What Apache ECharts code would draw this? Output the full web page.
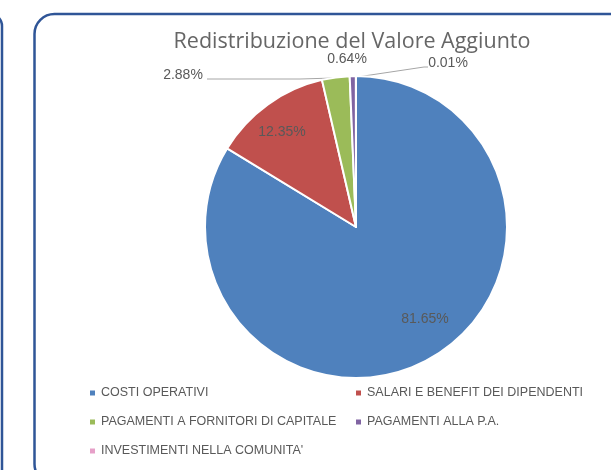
<!DOCTYPE html>
<html>
<head>
<meta charset="utf-8">
<script src="https://cdn.jsdelivr.net/npm/echarts@6/dist/echarts.min.js"></script>
<style>
html,body{margin:0;padding:0;background:#fff;}
#chart{width:611px;height:470px;}
</style>
</head>
<body>
<div id="chart"></div>
<script>
// ---- data ----
var categories = ['COSTI OPERATIVI', 'SALARI E BENEFIT DEI DIPENDENTI', 'PAGAMENTI A FORNITORI DI CAPITALE', 'PAGAMENTI ALLA P.A.', "INVESTIMENTI NELLA COMUNITA'"];
var values = [81.65, 12.35, 2.88, 0.64, 0.01];
var titleText = 'Redistribuzione del Valore Aggiunto';

// ---- styling ----
var colors = ['#4F81BD', '#C0504D', '#9BBB59', '#8064A2', '#E6A0C8'];
var textColor = '#595959';
var fontFam = 'Liberation Sans, Arial, sans-serif';
var insideIdx = [0, 1];
// label anchor positions (layout)
var labelPos = {
  0: {x: 425, y: 319},
  1: {x: 282, y: 132},
  2: {x: 183, y: 75, line: [[207, 79], [300, 79], [334, 78]]},
  3: {x: 347, y: 59, line: null},
  4: {x: 448, y: 63, line: [[357, 77], [424, 67], [428, 67]]}
};

var chart = echarts.init(document.getElementById('chart'), null, {renderer: 'canvas'});

var data = categories.map(function (n, i) {
  var inside = insideIdx.indexOf(i) >= 0;
  return {
    name: n,
    value: values[i],
    label: {position: inside ? 'inside' : 'outside'},
    labelLine: {show: !inside && labelPos[i].line != null}
  };
});

var option = {
  animation: false,
  color: colors,
  title: {
    text: titleText,
    left: 352,
    top: 31,
    textAlign: 'center',
    padding: 0,
    textStyle: {fontFamily: 'Open Sans, Noto Sans, sans-serif', fontSize: 21.5, fontWeight: 'normal', color: '#666666'}
  },
  graphic: [
    {type: 'rect', shape: {x: 34.5, y: 14, width: 620, height: 470, r: 20},
     style: {fill: 'none', stroke: '#2F5597', lineWidth: 2.5}, z: 0},
    {type: 'rect', shape: {x: -40, y: 14, width: 42, height: 470, r: 12},
     style: {fill: 'none', stroke: '#2F5597', lineWidth: 2.5}, z: 0}
  ],
  legend: [
    {
      data: [categories[0], categories[2], categories[4]],
      orient: 'vertical', left: 88, top: 386, padding: 0,
      icon: 'rect', itemWidth: 7, itemHeight: 7, itemGap: 15, itemTextGap: 5,
      textStyle: {fontFamily: fontFam, fontSize: 12.5, color: textColor, lineHeight: 14},
      selectedMode: false
    },
    {
      data: [categories[1], categories[3]],
      orient: 'vertical', left: 354, top: 386, padding: 0,
      icon: 'rect', itemWidth: 7, itemHeight: 7, itemGap: 15, itemTextGap: 5,
      textStyle: {fontFamily: fontFam, fontSize: 12.5, color: textColor, lineHeight: 14},
      selectedMode: false
    }
  ],
  series: [{
    type: 'pie',
    center: [356, 227],
    radius: [0, 151],
    startAngle: 90,
    clockwise: true,
    avoidLabelOverlap: false,
    minAngle: 0,
    itemStyle: {borderColor: '#fff', borderWidth: 2},
    label: {
      show: true,
      formatter: function (p) { return p.value.toFixed(2) + '%'; },
      fontFamily: fontFam, fontSize: 14, color: textColor
    },
    labelLine: {lineStyle: {color: '#A6A6A6', width: 1}},
    labelLayout: function (p) {
      var lp = labelPos[p.dataIndex];
      var r = {x: lp.x, y: lp.y, align: 'center', verticalAlign: 'middle'};
      if (lp.line) r.labelLinePoints = lp.line;
      return r;
    },
    emphasis: {disabled: true},
    data: data
  }]
};
chart.setOption(option);
</script>
</body>
</html>
